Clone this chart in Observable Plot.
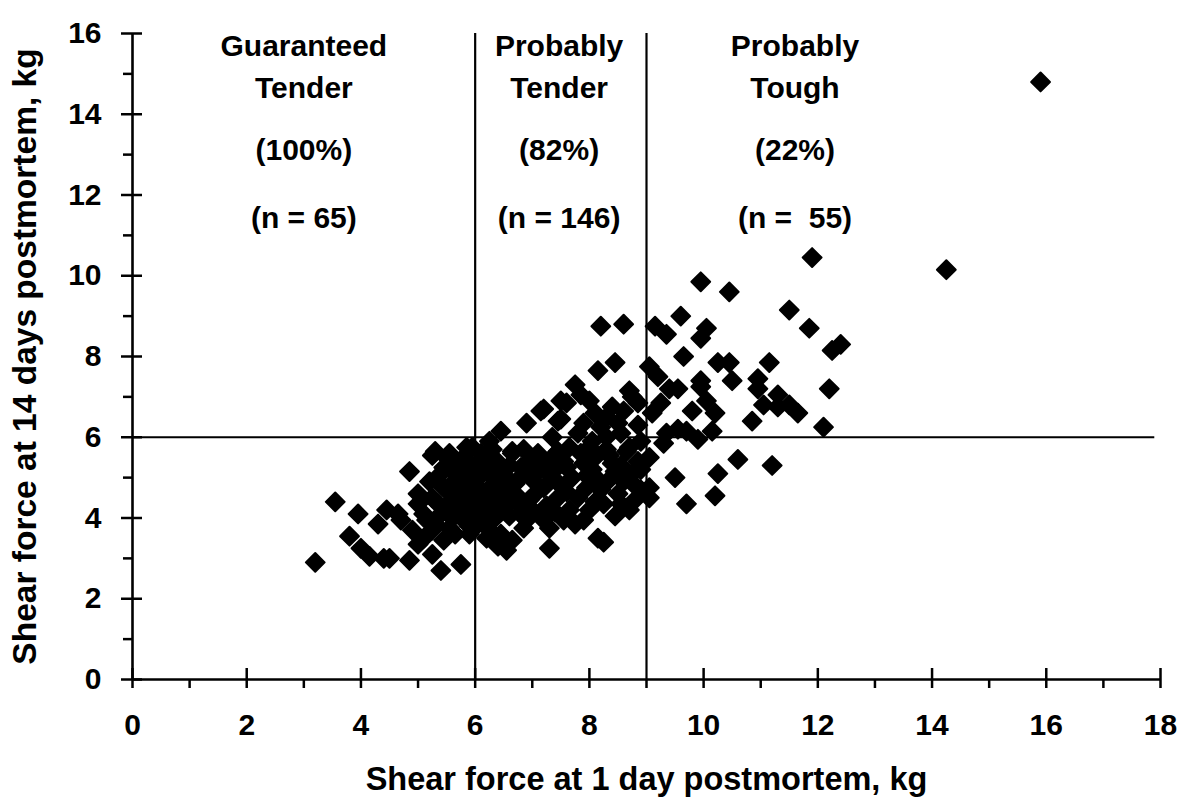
<!DOCTYPE html>
<html>
<head>
<meta charset="utf-8">
<script src="https://cdn.jsdelivr.net/npm/d3@7"></script>
<script src="https://cdn.jsdelivr.net/npm/@observablehq/plot@0.6"></script>
<style>
  html, body { margin: 0; padding: 0; background: #fff; }
  svg text { white-space: pre; }
</style>
</head>
<body>
<div id="chart"></div>
<script>
// Shear force [day 1, day 14] (kg), grouped by tenderness zone
const guaranteedTender = [
  [3.2,2.9],[3.55,4.4],[3.8,3.55],[3.95,4.1],[4.0,3.25],[4.15,3.05],[4.3,3.85],[4.4,3.0],
  [4.45,4.2],[4.5,3.0],[4.65,4.1],[4.7,3.95],[4.85,5.15],[4.85,2.95],[4.9,3.7],[5.0,4.6],
  [5.0,4.35],[5.0,3.35],[5.1,3.5],[5.15,3.95],[5.25,5.55],[5.25,4.5],[5.25,3.7],[5.25,3.1],
  [5.4,5.1],[5.4,4.1],[5.4,2.7],[5.45,4.75],[5.45,3.45],[5.5,5.5],[5.55,3.75],[5.6,4.45],
  [5.65,5.1],[5.55,5.6],[5.75,4.75],[5.8,3.95],[5.75,2.85],[5.85,5.75],[5.9,5.25],[5.95,4.6],
  [5.95,5.75],[5.3,5.65],[5.6,4.0],[5.7,4.3],[5.8,4.9],[5.85,4.2],[5.9,3.8],[5.65,3.6],
  [5.5,4.25],[5.35,4.35],[5.2,4.9],[5.1,4.1],[5.7,5.35],[5.9,4.45],[5.95,5.0],[5.8,5.5],
  [5.6,4.85],[5.45,5.25],[5.3,3.85],[5.75,4.05],[5.9,3.6],[5.55,4.65],[5.85,5.1],[5.95,4.25],
  [5.7,4.55]
];
const probablyTender = [
  [8.2,8.75],[8.6,8.8],[8.15,7.65],[8.45,7.85],[7.75,7.3],[7.85,7.05],[7.5,6.9],[7.2,6.7],
  [7.6,6.85],[8.0,6.9],[8.7,7.15],[8.6,6.65],[8.85,6.85],[8.3,6.5],[7.15,6.65],[8.75,7.0],
  [8.4,6.75],[8.1,6.6],[8.5,6.35],[7.9,6.35],[7.5,6.45],[7.8,6.1],[7.35,6.0],[8.7,5.75],
  [8.05,5.9],[8.3,6.0],[6.45,6.15],[6.9,6.35],[7.45,6.4],[6.85,5.7],[6.65,5.65],[7.1,5.6],
  [6.1,5.6],[8.55,6.1],[8.85,6.3],[8.9,5.9],[6.25,5.9],[8.2,6.25],[6.65,5.6],[7.1,5.55],
  [7.35,5.5],[7.6,5.25],[8.1,5.5],[8.4,5.35],[8.65,5.65],[8.85,5.4],[8.9,4.7],[8.55,4.35],
  [8.7,4.2],[8.25,4.35],[8.15,3.5],[8.25,3.4],[7.9,3.95],[7.65,4.2],[7.3,3.75],[7.3,3.25],
  [7.45,4.5],[7.2,4.75],[6.95,4.45],[6.9,3.95],[6.65,3.45],[6.55,3.2],[6.25,3.7],[6.1,4.1],
  [6.05,4.75],[6.25,5.1],[6.5,4.75],[6.75,4.95],[6.5,4.25],[6.75,4.35],[6.4,4.5],[7.1,5.15],
  [6.9,5.35],[7.35,5.0],[7.8,4.5],[7.95,4.75],[7.9,5.35],[8.15,4.95],[8.35,4.95],[8.5,4.6],
  [6.05,3.85],[6.15,4.4],[6.2,5.3],[6.35,4.0],[6.45,3.6],[6.6,5.3],[6.8,4.1],[6.85,3.75],
  [7.0,4.2],[7.0,4.95],[7.25,4.3],[7.5,4.8],[7.55,5.4],[7.7,5.0],[7.75,3.85],[8.0,4.2],
  [8.05,5.2],[8.3,5.7],[8.45,5.15],[8.6,4.9],[8.75,5.1],[8.8,4.45],[6.1,4.6],[6.2,4.2],
  [6.3,4.8],[6.35,5.45],[6.05,5.35],[6.0,4.35],[6.15,3.95],[6.3,4.35],[6.55,5.0],[6.6,4.05],
  [6.7,4.6],[6.95,5.1],[7.05,4.6],[7.15,4.05],[7.4,4.15],[7.55,3.95],[7.6,4.65],[7.85,5.6],
  [7.95,5.05],[8.1,4.4],[8.2,4.7],[8.35,5.55],[8.55,5.3],[8.9,5.2],[6.4,3.3],[6.1,5.05],
  [6.05,4.0],[6.25,4.55],[6.45,4.95],[6.8,5.25],[7.25,5.35],[7.65,5.75],[8.0,5.75],[7.45,5.65],
  [6.7,4.85],[6.4,5.2],[6.2,3.5],[6.0,4.95],[6.55,4.4],[7.2,3.95],[8.45,4.05],[8.8,4.8],
  [7.4,5.2],[6.3,5.7]
];
const probablyTough = [
  [15.9,14.8],[14.25,10.15],[11.9,10.45],[10.45,9.6],[11.5,9.15],[11.85,8.7],[12.25,8.15],[12.4,8.3],
  [9.95,9.85],[10.05,8.7],[9.95,8.45],[9.6,9.0],[9.35,8.55],[9.15,8.75],[9.65,8.0],[9.05,7.75],
  [9.2,7.5],[10.25,7.85],[10.45,7.85],[11.15,7.85],[10.5,7.4],[10.95,7.45],[10.95,7.2],[11.3,7.05],
  [11.05,6.8],[11.3,6.75],[11.5,6.8],[11.65,6.6],[12.2,7.2],[10.85,6.4],[12.1,6.25],[9.95,7.25],
  [10.05,6.9],[10.2,6.6],[9.4,7.2],[9.55,7.2],[9.95,7.4],[9.8,6.65],[9.55,6.2],[9.7,6.15],
  [10.15,6.15],[9.9,5.95],[9.3,5.85],[9.05,5.5],[9.5,5.0],[9.7,4.35],[10.25,5.1],[10.2,4.55],
  [10.6,5.45],[11.2,5.3],[9.05,4.75],[9.05,4.5],[9.35,6.1],[9.1,6.6],[9.25,6.85]
];

const xMajorTicks = [0, 2, 4, 6, 8, 10, 12, 14, 16, 18];
const xMinorTicks = [1, 3, 5, 7, 9, 11, 13, 15, 17];
const yMajorTicks = [0, 2, 4, 6, 8, 10, 12, 14, 16];
const yMinorTicks = [1, 3, 5, 7, 9, 11, 13, 15];

const dividerX = [6, 9];
const dividerY = [6];

const zoneTitle1 = ["Guaranteed", "Probably", "Probably"];
const zoneTitle2 = ["Tender", "Tender", "Tough"];
const zonePercent = ["(100%)", "(82%)", "(22%)"];
const zoneCount = ["(n = 65)", "(n = 146)", "(n =  55)"];
const zoneLabelX = [3.0, 7.47, 11.6];

const xLabel = "Shear force at 1 day postmortem, kg";
const yLabel = "Shear force at 14 days postmortem, kg";

const points = [...guaranteedTender, ...probablyTender, ...probablyTough].map(([x, y]) => ({x, y}));

const squareDiamond = {
  draw(ctx, size) {
    const h = Math.sqrt(size / 2);
    ctx.moveTo(0, -h); ctx.lineTo(h, 0); ctx.lineTo(0, h); ctx.lineTo(-h, 0); ctx.closePath();
  }
};

const zoneText = (labels, yPos) => Plot.text(labels, {
  x: (d, i) => zoneLabelX[i], y: yPos, text: d => d,
  fontSize: 30, fontWeight: "bold", textAnchor: "middle", lineAnchor: "middle", fill: "black"
});

const chart = Plot.plot({
  width: 1181,
  height: 799,
  marginLeft: 132,
  marginRight: 21,
  marginTop: 33,
  marginBottom: 120,
  x: {domain: [0, 18]},
  y: {domain: [0, 16]},
  style: {fontFamily: "'Liberation Sans', Arial, sans-serif", fontWeight: "bold", background: "white", color: "black"},
  marks: [
    Plot.axisX({ticks: xMajorTicks, tickSize: 0, tickPadding: 34, fontSize: 30, fontWeight: "bold", label: null}),
    Plot.axisY({ticks: yMajorTicks, tickSize: 0, tickPadding: 31, fontSize: 30, fontWeight: "bold", label: null}),
    // divider lines
    Plot.ruleX(dividerX, {x: d => d, y1: 0, y2: 16, stroke: "black", strokeWidth: 2.2}),
    Plot.ruleY(dividerY, {y: d => d, x1: 0, x2: 17.9, stroke: "black", strokeWidth: 2}),
    // axis lines
    Plot.ruleY([0], {y: d => d, x1: 0, x2: 18, stroke: "black", strokeWidth: 2.6}),
    Plot.ruleX([0], {x: d => d, y1: 0, y2: 16, stroke: "black", strokeWidth: 2.6}),
    // ticks
    Plot.ruleX(xMajorTicks, {x: d => d, y1: 0, y2: 0, insetTop: -11, insetBottom: -9, stroke: "black", strokeWidth: 2.5}),
    Plot.ruleX(xMinorTicks, {x: d => d, y1: 0, y2: 0, insetTop: 0, insetBottom: -9, stroke: "black", strokeWidth: 2.5}),
    Plot.ruleY(yMajorTicks, {y: d => d, x1: 0, x2: 0, insetLeft: -11, insetRight: -10, stroke: "black", strokeWidth: 2.5}),
    Plot.ruleY(yMinorTicks, {y: d => d, x1: 0, x2: 0, insetLeft: -9, insetRight: 0, stroke: "black", strokeWidth: 2.5}),
    // data
    Plot.dot(points, {x: "x", y: "y", symbol: squareDiamond, r: 7.5, fill: "black", stroke: "black", strokeWidth: 2, strokeLinejoin: "round"}),
    // zone annotations
    zoneText(zoneTitle1, 15.68),
    zoneText(zoneTitle2, 14.64),
    zoneText(zonePercent, 13.11),
    zoneText(zoneCount, 11.43),
    // axis titles
    Plot.text([xLabel], {frameAnchor: "bottom", dy: 100, text: d => d, fontSize: 32.5, fontWeight: "bold", lineAnchor: "middle", textAnchor: "middle", fill: "black"}),
    Plot.text([yLabel], {frameAnchor: "left", dx: -107, text: d => d, rotate: -90, fontSize: 33.5, fontWeight: "bold", lineAnchor: "middle", textAnchor: "middle", fill: "black"})
  ]
});
document.getElementById("chart").appendChild(chart);
</script>
</body>
</html>
